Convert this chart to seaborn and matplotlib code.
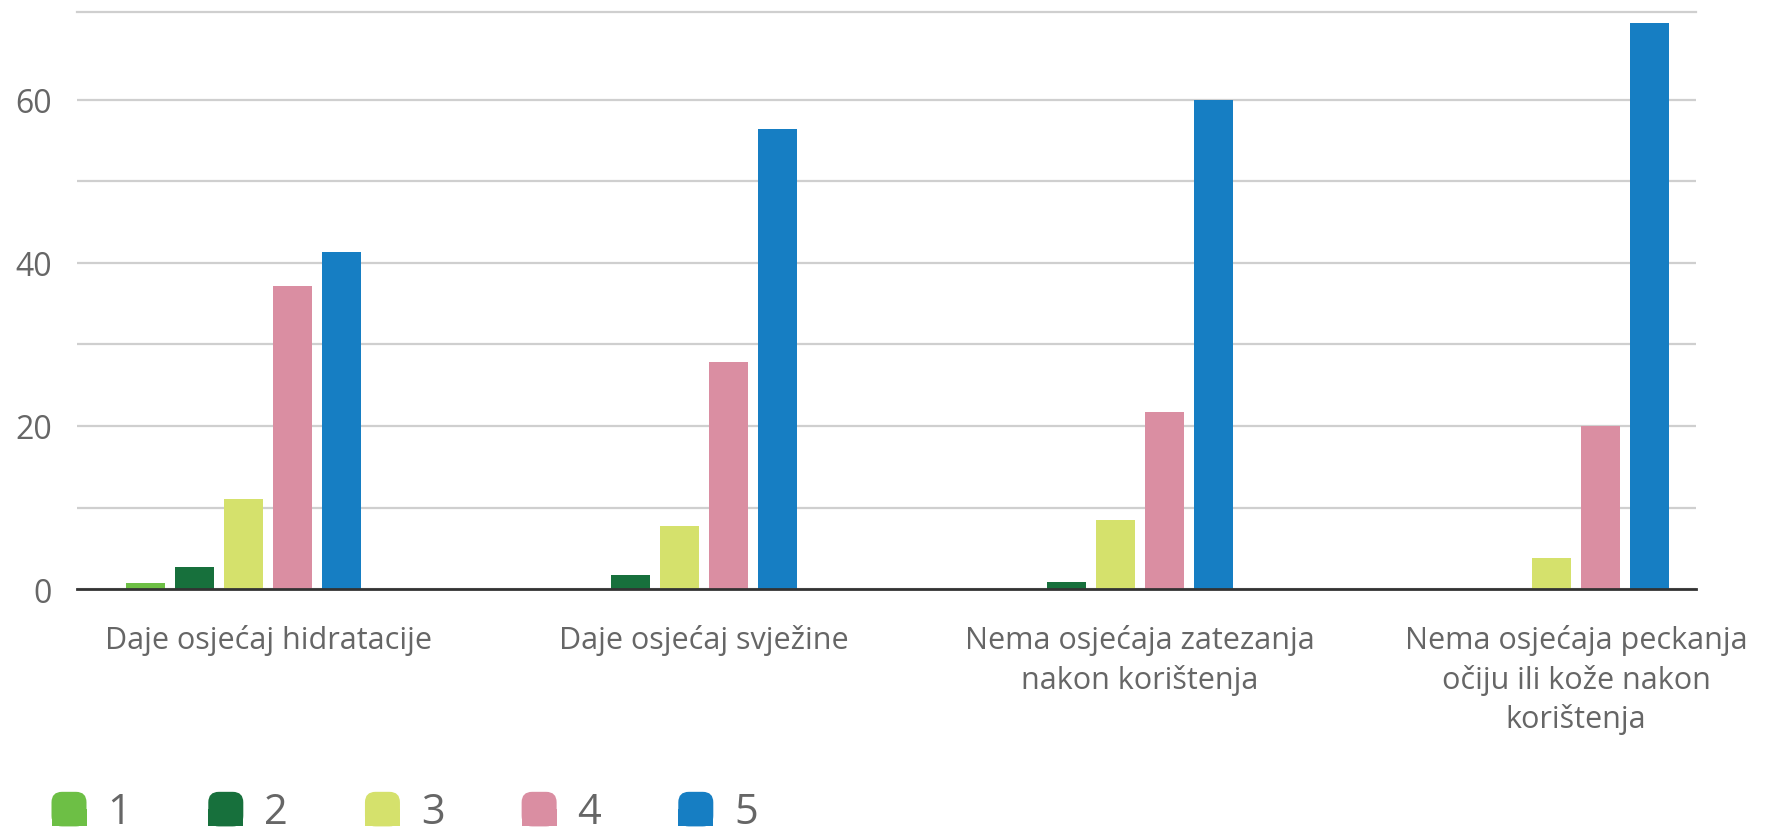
import pandas as pd
import matplotlib.pyplot as plt
import seaborn as sns
from matplotlib.patches import Patch, FancyBboxPatch, Rectangle
from matplotlib.legend_handler import HandlerPatch

# podaci (procjena s grafa)
kategorije = ['Daje osjećaj hidratacije',
              'Daje osjećaj svježine',
              'Nema osjećaja zatezanja\nnakon korištenja',
              'Nema osjećaja peckanja\nočiju ili kože nakon\nkorištenja']
ocjene = ['1', '2', '3', '4', '5']
ocjena_1 = [0.7, 0.0, 0.0, 0.0]
ocjena_2 = [2.7, 1.7, 0.9, 0.0]
ocjena_3 = [11.0, 7.7, 8.5, 3.8]
ocjena_4 = [37.2, 27.8, 21.7, 20.0]
ocjena_5 = [41.4, 56.4, 60.0, 69.5]
boje = ['#6dbf45', '#17703c', '#d5e16c', '#da8ea2', '#167ec3']

rows = []
for ocj, vals in zip(ocjene, [ocjena_1, ocjena_2, ocjena_3, ocjena_4, ocjena_5]):
    for kat, v in zip(kategorije, vals):
        rows.append({'kategorija': kat, 'ocjena': ocj, 'postotak': v})
df = pd.DataFrame(rows)


# legenda: kvadratići zaobljeni samo gore
class ZaobljenoGore(HandlerPatch):
    def create_artists(self, legend, orig_handle, xdescent, ydescent,
                       width, height, fontsize, trans):
        c = orig_handle.get_facecolor()
        gore = FancyBboxPatch((-xdescent, -ydescent), width, height,
                              boxstyle=f'round,pad=0,rounding_size={width * 0.3}',
                              fc=c, ec='none', transform=trans)
        dolje = Rectangle((-xdescent, -ydescent), width, height / 2,
                          fc=c, ec='none', transform=trans)
        return [gore, dolje]


sns.set_style('white')
plt.rcParams['font.family'] = ['Open Sans', 'DejaVu Sans']
tekst = '#666666'

fig = plt.figure(figsize=(17.76, 8.37), dpi=100)
ax = fig.add_axes([0.0434, 0.2951, 0.9116, 0.6894])

# prazna šesta razina ostavlja mjesto desno u svakoj grupi
paleta = dict(zip(ocjene, boje))
paleta[' '] = '#ffffff'
sns.barplot(data=df, x='kategorija', y='postotak', hue='ocjena',
            hue_order=ocjene + [' '], palette=paleta, saturation=1,
            width=0.674, gap=0.2, linewidth=0, legend=False, ax=ax)

ax.set_xlim(-0.438, 3.275)
ax.set_ylim(0, 70.8)
ax.set_yticks(range(0, 70, 10))
ax.set_yticklabels(['0', '', '20', '', '40', '', '60'])
ax.yaxis.grid(True, color='#cfcfcf', linewidth=1.6)
ax.set_axisbelow(True)
ax.set_xlabel('')
ax.set_ylabel('')

for s in ['left', 'right']:
    ax.spines[s].set_visible(False)
ax.spines['top'].set_color('#cfcfcf')
ax.spines['top'].set_linewidth(1.6)
ax.spines['bottom'].set_color('#333333')
ax.spines['bottom'].set_linewidth(2)
ax.spines['bottom'].set_zorder(5)

ax.tick_params(axis='y', length=0, pad=18, labelsize=23, labelcolor=tekst)
ax.tick_params(axis='x', length=0, pad=25, labelsize=22, labelcolor=tekst)
for lbl in ax.get_xticklabels():
    lbl.set_linespacing(1.37)

handles = [Patch(facecolor=c, label=o) for o, c in zip(ocjene, boje)]
fig.legend(handles=handles, loc='lower left', bbox_to_anchor=(0.029, 0.003),
           ncol=5, frameon=False, fontsize=30, labelcolor=tekst,
           handlelength=0.84, handleheight=0.9, handletextpad=0.5,
           columnspacing=1.85, borderpad=0, borderaxespad=0,
           handler_map={Patch: ZaobljenoGore()})

fig.savefig('out.png', dpi=100)
